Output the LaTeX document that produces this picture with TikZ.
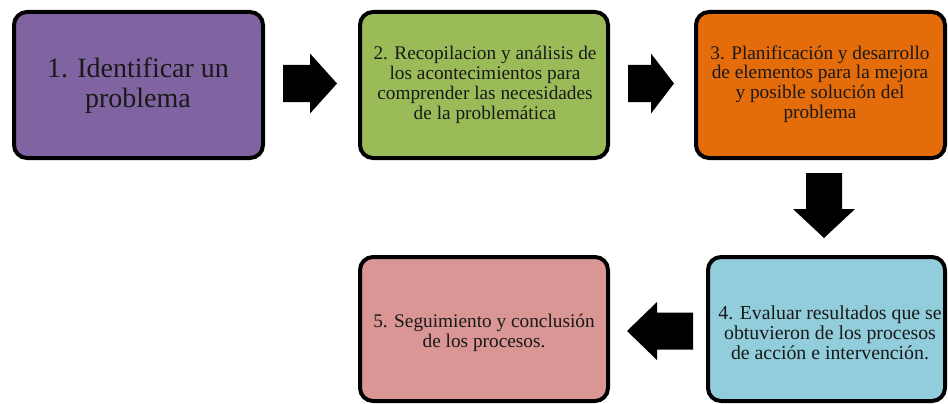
\documentclass[tikz,border=0pt]{standalone}
\usepackage{fontspec}
\setmainfont{Liberation Serif}
\definecolor{cpurple}{HTML}{8064A2}
\definecolor{cgreen}{HTML}{9BBB59}
\definecolor{corange}{HTML}{E46C0A}
\definecolor{cblue}{HTML}{92CDDC}
\definecolor{cpink}{HTML}{D99694}
\begin{document}
\begin{tikzpicture}[x=1pt,y=-1pt,
  stepbox/.style={draw=black,line width=4pt,rounded corners=13pt},
  boxtext/.style={align=center,font=\fontsize{19.3}{19.8}\selectfont,text=black!90},
  blockarrow/.style={fill=black}]
\useasboundingbox (0,0) rectangle (948,404);
% boxes
\draw[stepbox,fill=cpurple] (14,12) rectangle (263,158);
\draw[stepbox,fill=cgreen] (360,12) rectangle (608,158);
\draw[stepbox,fill=corange] (696,12) rectangle (945,158);
\draw[stepbox,fill=cblue] (708,257) rectangle (945,401);
\draw[stepbox,fill=cpink] (360,257) rectangle (608,401);
% texts
\node[boxtext,font=\fontsize{28}{30}\selectfont] (t1) at (138,86) {1. Identificar un\\problema};
\node[boxtext] (t2) at (485,85) {2. Recopilacion y análisis de\\los acontecimientos para\\comprender las necesidades\\de la problemática};
\node[boxtext] (t3) at (820,84) {3. Planificación y desarrollo\\de elementos para la mejora\\y posible solución del\\problema};
\node[boxtext,font=\fontsize{19.8}{19.8}\selectfont] (t4) at (830,333) {4. Evaluar resultados que se\\obtuvieron de los procesos\\de acción e intervención.};
\node[boxtext] (t5) at (484,333) {5. Seguimiento y conclusión\\de los procesos.};
% block arrows
\coordinate (a1) at (283,83.5);
\fill[blockarrow] (a1) ++(0,-18.5) -- ++(27,0) -- ++(0,-11.5) -- ++(27,30) -- ++(-27,30) -- ++(0,-11.5) -- ++(-27,0) -- cycle;
\coordinate (a2) at (628,83.5);
\fill[blockarrow] (a2) ++(0,-18.5) -- ++(23,0) -- ++(0,-11.5) -- ++(23,30) -- ++(-23,30) -- ++(0,-11.5) -- ++(-23,0) -- cycle;
\coordinate (a3) at (824,173);
\fill[blockarrow] (a3) ++(-18,0) -- ++(0,36) -- ++(-13,0) -- ++(31,29) -- ++(31,-29) -- ++(-13,0) -- ++(0,-36) -- cycle;
\coordinate (a4) at (693,331);
\fill[blockarrow] (a4) ++(0,-18.5) -- ++(-36,0) -- ++(0,-10.5) -- ++(-30,29) -- ++(30,29) -- ++(0,-10.5) -- ++(36,0) -- cycle;
\end{tikzpicture}
\end{document}
